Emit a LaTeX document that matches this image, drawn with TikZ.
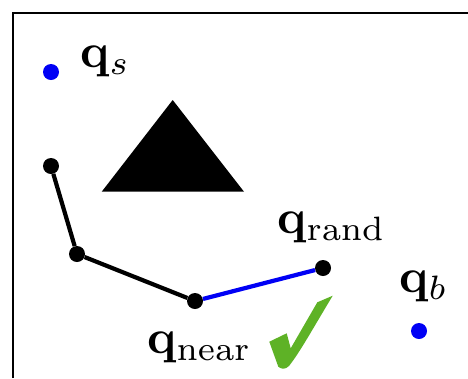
\documentclass[tikz,border=0pt]{standalone}
\usepackage{tikz}
\usetikzlibrary{positioning, calc}
\definecolor{stepgreen}{RGB}{94,178,38}
\definecolor{goalblue}{RGB}{0,0,245}
\newcommand{\biglabel}[1]{\scalebox{4.85}{$#1$}}

\begin{document}
\begin{tikzpicture}[
    x=1bp, y=-1bp,
    treenode/.style={circle, fill=black, inner sep=0pt, minimum size=16bp},
    endnode/.style={circle, fill=goalblue, inner sep=0pt, minimum size=16bp},
    branch/.style={line width=4.2bp, black},
    newbranch/.style={line width=4.2bp, goalblue},
    qlabel/.style={anchor=base west, inner sep=0pt}
]
\useasboundingbox (0,0) rectangle (468,378);

% Frame
\draw[line width=2bp] (13,378) -- (13,13) -- (468,13);

% Obstacle
\fill (101.7,191.7) -- (172.7,100) -- (244,191.7) -- cycle;

% Start and goal
\node[endnode] (qs) at (51,72) {};
\node[qlabel] (labs) at (80,67) {\biglabel{\mathbf{q}_s}};
\node[endnode] (qb) at (419,331) {};
\node[qlabel] (labb) at (399,292) {\biglabel{\mathbf{q}_b}};

% Tree
\node[treenode] (t1) at (51,166) {};
\node[treenode] (t2) at (77,254) {};
\node[treenode] (near) at (195,301) {};
\node[treenode] (rand) at (323,268) {};
\node[qlabel] (labnear) at (147,353) {\biglabel{\mathbf{q}_{\mathrm{near}}}};
\node[qlabel] (labrand) at (277,233) {\biglabel{\mathbf{q}_{\mathrm{rand}}}};

% Edges
\draw[branch] (t1) -- (t2) -- (near);
\draw[newbranch] (near) -- (rand);

% Check mark
\fill[stepgreen] (269.3,341.7) -- (286.7,333.3) -- (290.7,348.3) -- (317.3,302.3)
    -- (332.7,295.7) .. controls (312,330) and (300,352) .. (289,366)
    .. controls (285,370) and (281,369) .. (278.3,366.7) -- cycle;

\end{tikzpicture}
\end{document}
